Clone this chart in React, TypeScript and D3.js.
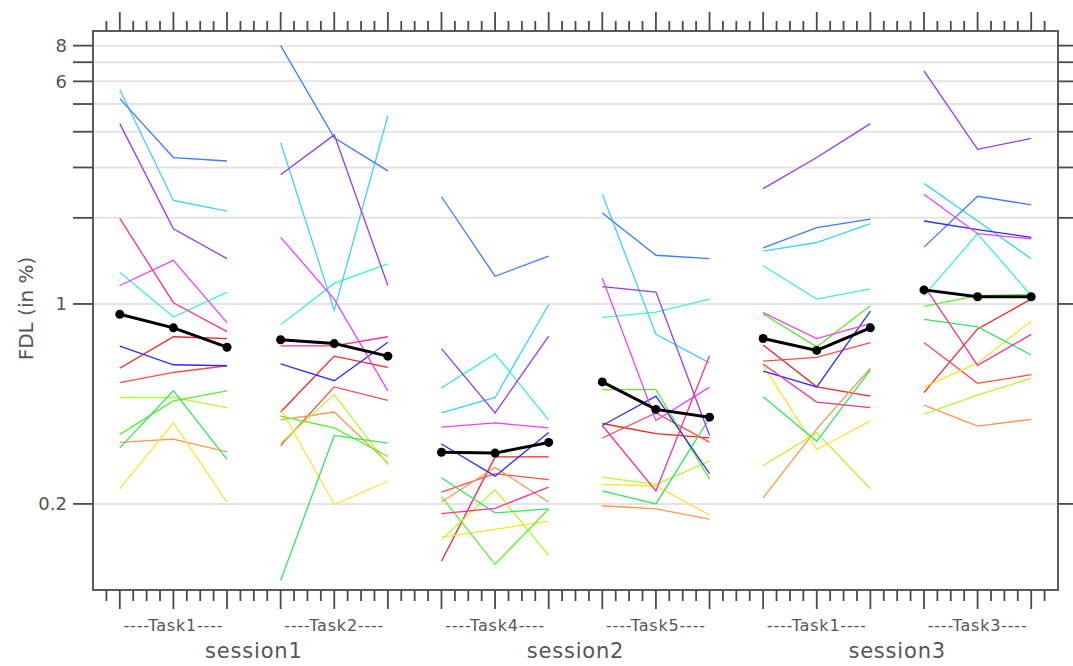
import React from "react";
import * as d3 from "d3";

// Measurement positions: 6 task blocks x 3 repetitions
const tasks = ["----Task1----", "----Task2----", "----Task4----", "----Task5----", "----Task1----", "----Task3----"];
const sessions = ["session1", "session2", "session3"];
const repsPerTask = 3;

// Y ticks (FDL in %)
const yTicks = [0.2, 1, 2, 3, 4, 5, 6, 7, 8];
const yTickLabels: Record<string, string> = { "0.2": "0.2", "1": "1", "6": "6", "8": "8" };

// Per-subject FDL values (18 positions each)
const red = [0.596, 0.768, 0.757, 0.419, 0.657, 0.6, 0.126, 0.292, 0.292, 0.382, 0.352, 0.34, 0.718, 0.513, 0.476, 0.49, 0.818, 1.04];
const red2 = [0.531, 0.576, 0.608, 0.32, 0.513, 0.46, 0.22, 0.255, 0.243, 0.34, 0.416, 0.329, 0.631, 0.65, 0.733, 0.733, 0.528, 0.566];
const skyblue = [5.22, 3.25, 3.16, 8.0, 3.81, 2.92, 2.37, 1.25, 1.47, 2.08, 1.48, 1.44, 1.57, 1.85, 1.98, 1.58, 2.38, 2.22];
const cyan = [5.61, 2.3, 2.11, 3.67, 0.95, 4.55, 0.416, 0.471, 0.994, 2.42, 0.783, 0.622, 1.53, 1.64, 1.91, 2.64, 1.95, 1.44];
const purple = [4.27, 1.83, 1.44, 2.83, 3.9, 1.16, 0.698, 0.416, 0.772, 1.15, 1.1, 0.347, 2.53, 3.25, 4.27, 6.53, 3.47, 3.79];
const rose = [1.99, 1.01, 0.8, 0.714, 0.714, 0.768, 0.185, 0.193, 0.229, 0.376, 0.222, 0.659, 0.617, 0.454, 0.434, 1.16, 0.61, 0.783];
const magenta = [1.16, 1.42, 0.86, 1.71, 1.04, 0.497, 0.371, 0.384, 0.369, 1.23, 0.391, 0.512, 0.933, 0.757, 0.854, 2.42, 1.76, 1.69];
const turquoise = [1.29, 0.9, 1.1, 0.846, 1.18, 1.38, 0.509, 0.669, 0.393, 0.897, 0.936, 1.04, 1.36, 1.04, 1.13, 1.07, 1.76, 1.07];
const blue = [0.712, 0.613, 0.608, 0.617, 0.539, 0.735, 0.324, 0.25, 0.355, 0.376, 0.476, 0.255, 0.582, 0.513, 0.944, 1.95, 1.82, 1.71];
const yellowgreen = [0.471, 0.471, 0.434, 0.326, 0.483, 0.274, 0.15, 0.224, 0.132, 0.248, 0.234, 0.282, 0.272, 0.355, 0.226, 0.412, 0.48, 0.55];
const green = [0.35, 0.458, 0.497, 0.405, 0.369, 0.293, 0.212, 0.123, 0.192, 0.502, 0.502, 0.244, 0.923, 0.708, 0.986, 0.98, 1.07, 1.08];
const springgreen = [0.314, 0.497, 0.286, 0.108, 0.347, 0.326, 0.247, 0.186, 0.192, 0.222, 0.2, 0.399, 0.474, 0.331, 0.588, 0.884, 0.832, 0.663];
const orange = [0.328, 0.337, 0.304, 0.393, 0.419, 0.278, 0.203, 0.268, 0.203, 0.197, 0.192, 0.177, 0.21, 0.366, 0.596, 0.443, 0.374, 0.395];
const yellow = [0.226, 0.384, 0.203, 0.431, 0.199, 0.24, 0.153, 0.163, 0.174, 0.234, 0.231, 0.183, 0.61, 0.31, 0.39, 0.512, 0.622, 0.871];

// Group summary line
const meanFDL = [0.92, 0.825, 0.706, 0.75, 0.727, 0.657, 0.303, 0.301, 0.328, 0.534, 0.428, 0.402, 0.757, 0.688, 0.825, 1.12, 1.06, 1.06];

const subjects = [
  { values: red, color: "#ff2020" },
  { values: red2, color: "#ff4a4a" },
  { values: orange, color: "#ff9450" },
  { values: yellow, color: "#ffe030" },
  { values: yellowgreen, color: "#b8f530" },
  { values: green, color: "#5ef02a" },
  { values: springgreen, color: "#30e860" },
  { values: turquoise, color: "#3cf5c8" },
  { values: cyan, color: "#3cd2ff" },
  { values: skyblue, color: "#3c7cff" },
  { values: blue, color: "#2c2cff" },
  { values: purple, color: "#9438ff" },
  { values: magenta, color: "#ee40ff" },
  { values: rose, color: "#ff3090" },
];

const W = 1073;
const H = 666;
const plot = { left: 93, right: 1058, top: 31, bottom: 590 };
const nPos = tasks.length * repsPerTask;
const axisColor = "#4a4a4a";
const textColor = "#555";
const font = "'DejaVu Sans', Verdana, sans-serif";

export default function App() {
  const x = d3.scaleLinear().domain([-0.5, nPos - 0.5]).range([plot.left, plot.right]);
  const y = d3.scaleLog().domain([0.1, 9]).range([plot.bottom, plot.top]);

  const minorTicks = d3.range(-1, nPos * 4 - 3 + 1).map((k) => k / 4).filter((t) => !Number.isInteger(t));
  const majorTicks = d3.range(0, nPos);

  // One polyline per subject per task block
  const blockPath = (values: number[], b: number) => {
    const pts = values.slice(b * repsPerTask, (b + 1) * repsPerTask);
    return d3
      .line<number>()
      .x((_, i) => x(b * repsPerTask + i))
      .y((v) => y(v))(pts) as string;
  };

  const blocks = d3.range(tasks.length);
  const tasksPerSession = tasks.length / sessions.length;

  return (
    <div style={{ position: "absolute", left: 0, top: 0 }}>
      <svg width={W} height={H} style={{ display: "block", background: "#fff" }}>
        {/* grid */}
        {yTicks.map((t) => (
          <line key={"g" + t} x1={plot.left} x2={plot.right} y1={y(t)} y2={y(t)} stroke="#e4e4e4" strokeWidth={2} />
        ))}

        {/* subject lines */}
        {subjects.map((s, si) =>
          blocks.map((b) => (
            <path key={si + "-" + b} d={blockPath(s.values, b)} fill="none" stroke={s.color} strokeWidth={1.3} />
          ))
        )}

        {/* summary line */}
        {blocks.map((b) => (
          <path key={"m" + b} d={blockPath(meanFDL, b)} fill="none" stroke="#000" strokeWidth={3} />
        ))}
        {meanFDL.map((v, i) => (
          <circle key={"mc" + i} cx={x(i)} cy={y(v)} r={4.5} fill="#000" />
        ))}

        {/* frame */}
        <rect
          x={plot.left}
          y={plot.top}
          width={plot.right - plot.left}
          height={plot.bottom - plot.top}
          fill="none"
          stroke={axisColor}
          strokeWidth={1.8}
        />

        {/* x ticks, bottom and top */}
        {majorTicks.map((t) => (
          <g key={"M" + t}>
            <line x1={x(t)} x2={x(t)} y1={plot.bottom} y2={plot.bottom + 19} stroke={axisColor} strokeWidth={1.8} />
            <line x1={x(t)} x2={x(t)} y1={plot.top} y2={plot.top - 19} stroke={axisColor} strokeWidth={1.8} />
          </g>
        ))}
        {minorTicks.map((t) => (
          <g key={"m" + t}>
            <line x1={x(t)} x2={x(t)} y1={plot.bottom} y2={plot.bottom + 11} stroke={axisColor} strokeWidth={1.8} />
            <line x1={x(t)} x2={x(t)} y1={plot.top} y2={plot.top - 10} stroke={axisColor} strokeWidth={1.8} />
          </g>
        ))}

        {/* y ticks, left and right */}
        {yTicks.map((t) => (
          <g key={"yt" + t}>
            <line x1={plot.left - 20} x2={plot.left} y1={y(t)} y2={y(t)} stroke={axisColor} strokeWidth={1.8} />
            <line x1={plot.right} x2={plot.right + 20} y1={y(t)} y2={y(t)} stroke={axisColor} strokeWidth={1.8} />
            {yTickLabels[String(t)] && (
              <text
                x={plot.left - 26}
                y={y(t)}
                dy="0.36em"
                textAnchor="end"
                fontFamily={font}
                fontSize={18}
                fill={textColor}
              >
                {yTickLabels[String(t)]}
              </text>
            )}
          </g>
        ))}

        {/* y title */}
        <text
          transform={`translate(33,${(plot.top + plot.bottom) / 2 - 2}) rotate(-90)`}
          textAnchor="middle"
          fontFamily={font}
          fontSize={20}
          fill={textColor}
        >
          FDL (in %)
        </text>

        {/* task labels */}
        {tasks.map((t, b) => (
          <text
            key={"t" + b}
            x={x(b * repsPerTask + (repsPerTask - 1) / 2)}
            y={631}
            textAnchor="middle"
            fontFamily={font}
            fontSize={16}
            letterSpacing={0.8}
            fill={textColor}
          >
            {t}
          </text>
        ))}

        {/* session labels */}
        {sessions.map((s, k) => (
          <text
            key={"s" + k}
            x={x(k * tasksPerSession * repsPerTask + (tasksPerSession * repsPerTask - 1) / 2)}
            y={658}
            textAnchor="middle"
            fontFamily={font}
            fontSize={21}
            letterSpacing={0.8}
            fill={textColor}
          >
            {s}
          </text>
        ))}
      </svg>
    </div>
  );
}
